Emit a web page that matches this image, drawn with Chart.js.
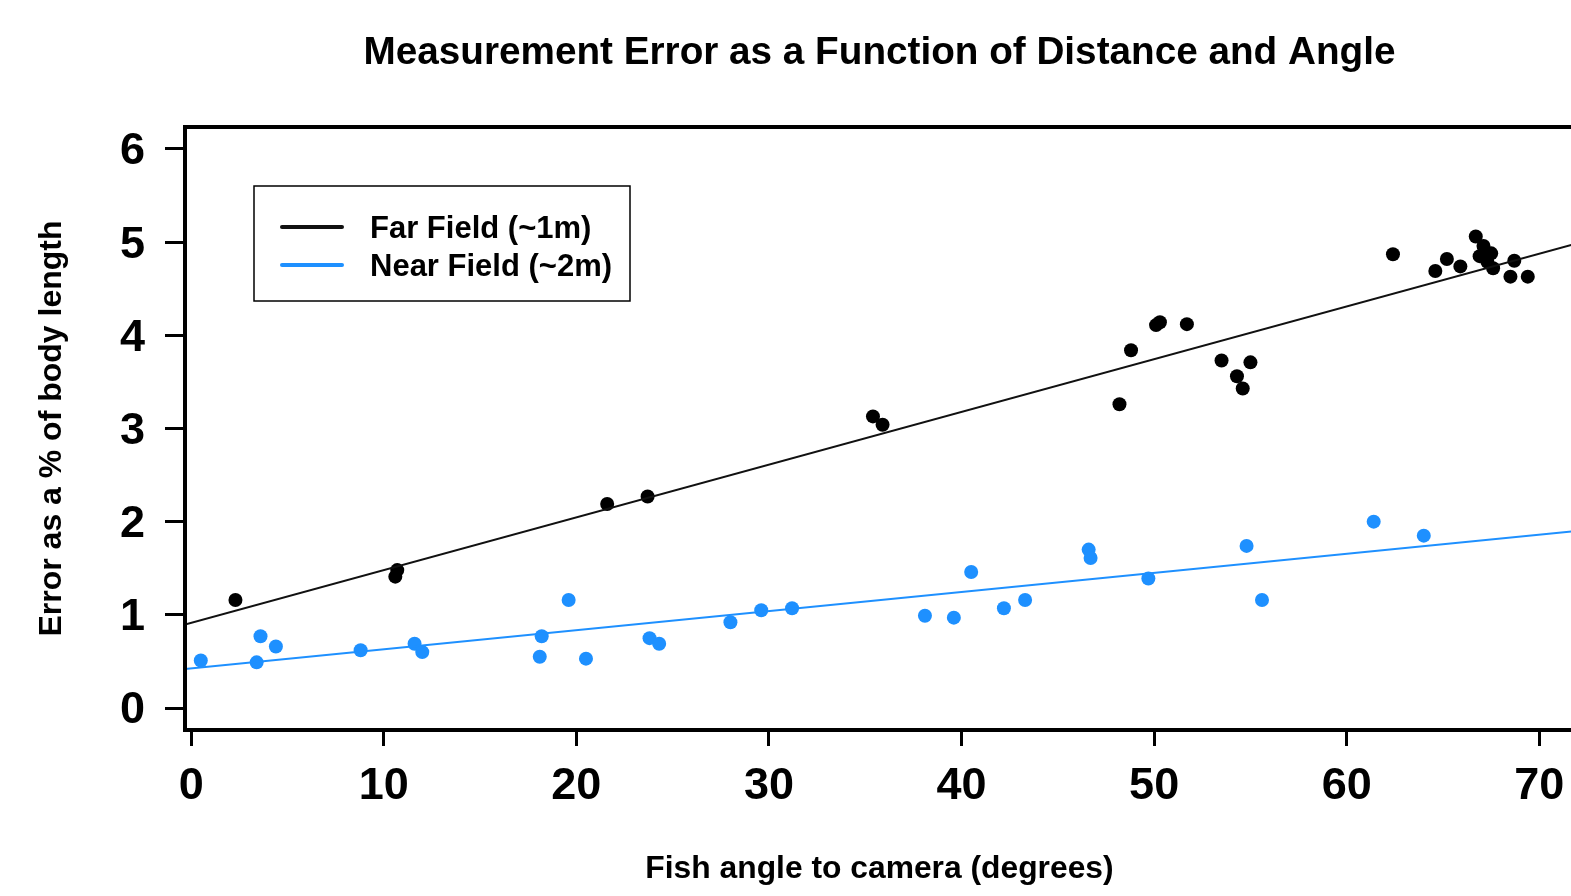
<!DOCTYPE html>
<html lang="en">
<head>
    <meta charset="UTF-8">
    <title>Measurement Error as a Function of Distance and Angle</title>
    <script src="https://cdn.jsdelivr.net/npm/chart.js@4.4.0/dist/chart.umd.min.js"></script>
    <style>
        html, body { margin: 0; padding: 0; background: #ffffff; overflow: hidden; }
        #wrap { width: 1600px; height: 896px; }
    </style>
</head>
<body>
    <div id="wrap">
        <canvas id="errChart" width="1600" height="896"></canvas>
    </div>

    <script>
        // data
        const farX  = [2.3, 10.6, 10.7, 21.6, 23.7, 35.4, 35.9, 48.2, 48.8, 50.1, 50.3, 51.7, 53.5, 54.3, 54.6, 55.0, 62.4, 64.6, 65.2, 65.9, 66.7, 66.9, 67.1, 67.3, 67.5, 67.6, 68.5, 68.7, 69.4];
        const farY  = [1.16, 1.41, 1.48, 2.19, 2.27, 3.13, 3.04, 3.26, 3.84, 4.11, 4.14, 4.12, 3.73, 3.56, 3.43, 3.71, 4.87, 4.69, 4.82, 4.74, 5.06, 4.85, 4.96, 4.79, 4.88, 4.72, 4.63, 4.80, 4.63];
        const nearX = [0.5, 3.4, 3.6, 4.4, 8.8, 11.6, 12.0, 18.1, 18.2, 19.6, 20.5, 23.8, 24.3, 28.0, 29.6, 31.2, 38.1, 39.6, 40.5, 42.2, 43.3, 46.6, 46.7, 49.7, 54.8, 55.6, 61.4, 64.0];
        const nearY = [0.51, 0.49, 0.77, 0.66, 0.62, 0.69, 0.60, 0.55, 0.77, 1.16, 0.53, 0.75, 0.69, 0.92, 1.05, 1.07, 0.99, 0.97, 1.46, 1.07, 1.16, 1.70, 1.61, 1.39, 1.74, 1.16, 2.00, 1.85];

        // fitted lines (intercept, slope)
        const farFit  = [0.915, 0.0566];
        const nearFit = [0.425, 0.0205];

        const xTicks = [0, 10, 20, 30, 40, 50, 60, 70];
        const yTicks = [0, 1, 2, 3, 4, 5, 6];
        const xRange = [-0.32, 71.8];
        const yRange = [-0.236, 6.236];

        const FONT = '"Liberation Sans", Arial, sans-serif';
        const BLUE = '#1E90FF';

        function toPoints(xs, ys) {
            return xs.map(function (x, i) { return { x: x, y: ys[i] }; });
        }

        function fitLine(fit) {
            return xRange.map(function (x) { return { x: x, y: fit[0] + fit[1] * x }; });
        }

        // box, titles and legend drawn the R way
        const decorations = {
            id: 'decorations',
            afterDraw(chart) {
                const ctx = chart.ctx;
                const a = chart.chartArea;
                ctx.save();

                ctx.strokeStyle = '#000';
                ctx.lineWidth = 4;
                ctx.strokeRect(a.left, a.top, a.right - a.left, a.bottom - a.top);

                ctx.fillStyle = '#000';
                ctx.textAlign = 'center';
                ctx.textBaseline = 'middle';
                const cx = (a.left + a.right) / 2;

                ctx.font = 'bold 38.7px ' + FONT;
                ctx.fillText('Measurement Error as a Function of Distance and Angle', cx, 53);

                ctx.font = 'bold 31.8px ' + FONT;
                ctx.fillText('Fish angle to camera (degrees)', cx, 869);

                ctx.save();
                ctx.translate(52, (a.top + a.bottom) / 2);
                ctx.rotate(-Math.PI / 2);
                ctx.font = 'bold 32px ' + FONT;
                ctx.fillText('Error as a % of body length', 0, 0);
                ctx.restore();

                // legend
                const lx = a.left + 69, ly = a.top + 59;
                ctx.lineWidth = 1.5;
                ctx.strokeStyle = '#000';
                ctx.strokeRect(lx, ly, 376, 115);
                const entries = chart.data.datasets.filter(function (d) { return d.type === 'line'; });
                ctx.textAlign = 'left';
                ctx.font = 'bold 31px ' + FONT;
                entries.forEach(function (d, i) {
                    const y = ly + 41 + i * 38;
                    ctx.strokeStyle = d.borderColor;
                    ctx.lineWidth = 4;
                    ctx.lineCap = 'round';
                    ctx.beginPath();
                    ctx.moveTo(lx + 28, y);
                    ctx.lineTo(lx + 88, y);
                    ctx.stroke();
                    ctx.fillStyle = '#000';
                    ctx.fillText(d.label, lx + 116, y + 2);
                });

                ctx.restore();
            }
        };

        const ctx = document.getElementById('errChart').getContext('2d');
        new Chart(ctx, {
            type: 'scatter',
            data: {
                datasets: [
                    {
                        type: 'line',
                        label: 'Far Field (~1m)',
                        data: fitLine(farFit),
                        borderColor: '#111111',
                        borderWidth: 2,
                        pointRadius: 0,
                        fill: false
                    },
                    {
                        type: 'line',
                        label: 'Near Field (~2m)',
                        data: fitLine(nearFit),
                        borderColor: BLUE,
                        borderWidth: 2,
                        pointRadius: 0,
                        fill: false
                    },
                    {
                        label: 'Far Field points',
                        data: toPoints(farX, farY),
                        backgroundColor: '#000000',
                        borderColor: '#000000',
                        borderWidth: 0,
                        pointRadius: 7
                    },
                    {
                        label: 'Near Field points',
                        data: toPoints(nearX, nearY),
                        backgroundColor: BLUE,
                        borderColor: BLUE,
                        borderWidth: 0,
                        pointRadius: 7
                    }
                ]
            },
            options: {
                responsive: false,
                animation: false,
                devicePixelRatio: 1,
                layout: { padding: { top: 127, right: 26, left: 0, bottom: 0 } },
                plugins: {
                    legend: { display: false },
                    title: { display: false },
                    tooltip: { enabled: false }
                },
                scales: {
                    x: {
                        type: 'linear',
                        min: xRange[0],
                        max: xRange[1],
                        afterBuildTicks: function (scale) {
                            scale.ticks = xTicks.map(function (v) { return { value: v }; });
                        },
                        afterFit: function (scale) { scale.height = 166; },
                        border: { display: false },
                        grid: {
                            drawOnChartArea: false,
                            drawTicks: true,
                            tickLength: 16,
                            color: '#000',
                            lineWidth: 3
                        },
                        ticks: {
                            color: '#000',
                            font: { family: FONT, size: 45, weight: 'bold' },
                            padding: 14,
                            maxRotation: 0,
                            autoSkip: false
                        }
                    },
                    y: {
                        type: 'linear',
                        min: yRange[0],
                        max: yRange[1],
                        afterBuildTicks: function (scale) {
                            scale.ticks = yTicks.map(function (v) { return { value: v }; });
                        },
                        afterFit: function (scale) { scale.width = 185; },
                        border: { display: false },
                        grid: {
                            drawOnChartArea: false,
                            drawTicks: true,
                            tickLength: 20,
                            color: '#000',
                            lineWidth: 3
                        },
                        ticks: {
                            color: '#000',
                            font: { family: FONT, size: 45, weight: 'bold' },
                            padding: 20,
                            labelOffset: 3,
                            autoSkip: false
                        }
                    }
                }
            },
            plugins: [decorations]
        });
    </script>
</body>
</html>
